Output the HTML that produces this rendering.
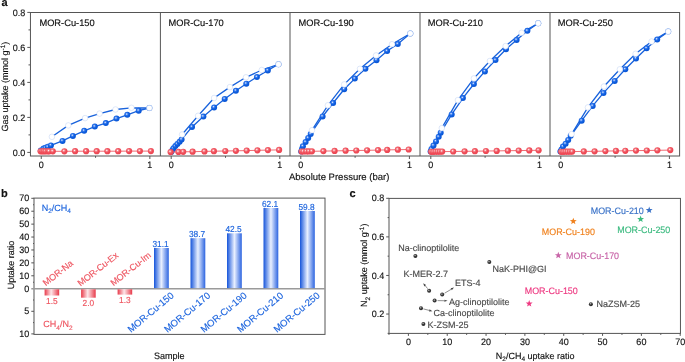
<!DOCTYPE html>
<html><head><meta charset="utf-8"><style>
html,body{margin:0;padding:0;background:#fff;}
svg{display:block;will-change:transform;}
text{font-family:"Liberation Sans", sans-serif;text-rendering:geometricPrecision;}
</style></head><body>
<svg width="685" height="362" viewBox="0 0 685 362" font-family='"Liberation Sans", sans-serif'>
<rect width="685" height="362" fill="#fff"/>
<text x="1.4" y="5.9" font-size="11" text-anchor="start" fill="#111111" stroke="#111111" stroke-width="0.15" font-weight="bold">a</text>
<rect x="30.45" y="12.5" width="649.15" height="143.50" fill="none" stroke="#555555" stroke-width="1"/>
<line x1="160.4" y1="12.5" x2="160.4" y2="156" stroke="#555555" stroke-width="1" />
<line x1="290.0" y1="12.5" x2="290.0" y2="156" stroke="#555555" stroke-width="1" />
<line x1="420.0" y1="12.5" x2="420.0" y2="156" stroke="#555555" stroke-width="1" />
<line x1="550.0" y1="12.5" x2="550.0" y2="156" stroke="#555555" stroke-width="1" />
<line x1="27.3" y1="12.4" x2="30" y2="12.4" stroke="#555555" stroke-width="1" />
<text transform="translate(25.3,15.6) scale(0.96,1)" font-size="9.4" text-anchor="end" fill="#111111" stroke="#111111" stroke-width="0.15" >0.8</text>
<line x1="27.3" y1="47.4" x2="30" y2="47.4" stroke="#555555" stroke-width="1" />
<text transform="translate(25.3,50.6) scale(0.96,1)" font-size="9.4" text-anchor="end" fill="#111111" stroke="#111111" stroke-width="0.15" >0.6</text>
<line x1="27.3" y1="82.4" x2="30" y2="82.4" stroke="#555555" stroke-width="1" />
<text transform="translate(25.3,85.6) scale(0.96,1)" font-size="9.4" text-anchor="end" fill="#111111" stroke="#111111" stroke-width="0.15" >0.4</text>
<line x1="27.3" y1="117.4" x2="30" y2="117.4" stroke="#555555" stroke-width="1" />
<text transform="translate(25.3,120.6) scale(0.96,1)" font-size="9.4" text-anchor="end" fill="#111111" stroke="#111111" stroke-width="0.15" >0.2</text>
<line x1="27.3" y1="152.4" x2="30" y2="152.4" stroke="#555555" stroke-width="1" />
<text transform="translate(25.3,155.6) scale(0.96,1)" font-size="9.4" text-anchor="end" fill="#111111" stroke="#111111" stroke-width="0.15" >0.0</text>
<line x1="28.5" y1="29.9" x2="30" y2="29.9" stroke="#555555" stroke-width="1" />
<line x1="28.5" y1="64.9" x2="30" y2="64.9" stroke="#555555" stroke-width="1" />
<line x1="28.5" y1="99.9" x2="30" y2="99.9" stroke="#555555" stroke-width="1" />
<line x1="28.5" y1="134.9" x2="30" y2="134.9" stroke="#555555" stroke-width="1" />
<text x="39.4" y="25.9" font-size="9.3" text-anchor="start" fill="#111111" stroke="#111111" stroke-width="0.15" >MOR-Cu-150</text>
<line x1="41.25" y1="156" x2="41.25" y2="159" stroke="#555555" stroke-width="1" />
<line x1="149.85" y1="156" x2="149.85" y2="159" stroke="#555555" stroke-width="1" />
<line x1="95.55" y1="156" x2="95.55" y2="157.8" stroke="#555555" stroke-width="1" />
<text transform="translate(41.25,168) scale(0.96,1)" font-size="9.4" text-anchor="middle" fill="#111111" stroke="#111111" stroke-width="0.15" >0</text>
<text transform="translate(149.85,168) scale(0.96,1)" font-size="9.4" text-anchor="middle" fill="#111111" stroke="#111111" stroke-width="0.15" >1</text>
<text x="168.5" y="25.9" font-size="9.3" text-anchor="start" fill="#111111" stroke="#111111" stroke-width="0.15" >MOR-Cu-170</text>
<line x1="171.2" y1="156" x2="171.2" y2="159" stroke="#555555" stroke-width="1" />
<line x1="279.8" y1="156" x2="279.8" y2="159" stroke="#555555" stroke-width="1" />
<line x1="225.5" y1="156" x2="225.5" y2="157.8" stroke="#555555" stroke-width="1" />
<text transform="translate(171.2,168) scale(0.96,1)" font-size="9.4" text-anchor="middle" fill="#111111" stroke="#111111" stroke-width="0.15" >0</text>
<text transform="translate(279.8,168) scale(0.96,1)" font-size="9.4" text-anchor="middle" fill="#111111" stroke="#111111" stroke-width="0.15" >1</text>
<text x="298.5" y="25.9" font-size="9.3" text-anchor="start" fill="#111111" stroke="#111111" stroke-width="0.15" >MOR-Cu-190</text>
<line x1="300.8" y1="156" x2="300.8" y2="159" stroke="#555555" stroke-width="1" />
<line x1="409.4" y1="156" x2="409.4" y2="159" stroke="#555555" stroke-width="1" />
<line x1="355.1" y1="156" x2="355.1" y2="157.8" stroke="#555555" stroke-width="1" />
<text transform="translate(300.8,168) scale(0.96,1)" font-size="9.4" text-anchor="middle" fill="#111111" stroke="#111111" stroke-width="0.15" >0</text>
<text transform="translate(409.4,168) scale(0.96,1)" font-size="9.4" text-anchor="middle" fill="#111111" stroke="#111111" stroke-width="0.15" >1</text>
<text x="427.7" y="25.9" font-size="9.3" text-anchor="start" fill="#111111" stroke="#111111" stroke-width="0.15" >MOR-Cu-210</text>
<line x1="430.8" y1="156" x2="430.8" y2="159" stroke="#555555" stroke-width="1" />
<line x1="539.4" y1="156" x2="539.4" y2="159" stroke="#555555" stroke-width="1" />
<line x1="485.1" y1="156" x2="485.1" y2="157.8" stroke="#555555" stroke-width="1" />
<text transform="translate(430.8,168) scale(0.96,1)" font-size="9.4" text-anchor="middle" fill="#111111" stroke="#111111" stroke-width="0.15" >0</text>
<text transform="translate(539.4,168) scale(0.96,1)" font-size="9.4" text-anchor="middle" fill="#111111" stroke="#111111" stroke-width="0.15" >1</text>
<text x="557.7" y="25.9" font-size="9.3" text-anchor="start" fill="#111111" stroke="#111111" stroke-width="0.15" >MOR-Cu-250</text>
<line x1="560.8" y1="156" x2="560.8" y2="159" stroke="#555555" stroke-width="1" />
<line x1="669.4" y1="156" x2="669.4" y2="159" stroke="#555555" stroke-width="1" />
<line x1="615.1" y1="156" x2="615.1" y2="157.8" stroke="#555555" stroke-width="1" />
<text transform="translate(560.8,168) scale(0.96,1)" font-size="9.4" text-anchor="middle" fill="#111111" stroke="#111111" stroke-width="0.15" >0</text>
<text transform="translate(669.4,168) scale(0.96,1)" font-size="9.4" text-anchor="middle" fill="#111111" stroke="#111111" stroke-width="0.15" >1</text>
<text x="289.0" y="179.6" font-size="9.5" text-anchor="start" fill="#111111" stroke="#111111" stroke-width="0.15" >Absolute Pressure (bar)</text>
<text transform="translate(7.7,131.5) rotate(-90)" font-size="9" fill="#111111" stroke="#111111" stroke-width="0.15">Gas uptake (mmol g<tspan dy="-3.2" font-size="6.5">-1</tspan><tspan dy="3.2">)</tspan></text>
<defs><radialGradient id="gb" cx="0.4" cy="0.38" r="0.62"><stop offset="0" stop-color="#f0f6ff"/><stop offset="0.3" stop-color="#3a7cee"/><stop offset="0.6" stop-color="#0d5ee0"/><stop offset="1" stop-color="#0a55d4"/></radialGradient><radialGradient id="gr" cx="0.4" cy="0.38" r="0.62"><stop offset="0" stop-color="#ffffff"/><stop offset="0.3" stop-color="#f47a82"/><stop offset="0.6" stop-color="#ef4c58"/><stop offset="1" stop-color="#ec4652"/></radialGradient><radialGradient id="gd" cx="0.42" cy="0.38" r="0.62"><stop offset="0" stop-color="#c8c8c8"/><stop offset="0.45" stop-color="#3a3a3a"/><stop offset="1" stop-color="#2a2a2a"/></radialGradient><linearGradient id="bb" x1="0" x2="1" y1="0" y2="0"><stop offset="0" stop-color="#1554da"/><stop offset="0.5" stop-color="#e9f0ff"/><stop offset="1" stop-color="#2c64e0"/></linearGradient><linearGradient id="rb" x1="0" x2="1" y1="0" y2="0"><stop offset="0" stop-color="#e83a4a"/><stop offset="0.45" stop-color="#fde6e9"/><stop offset="1" stop-color="#e83a4a"/></linearGradient></defs>
<polyline points="40.8,150.5 43.5,148.6 45.5,147.8 47.8,146.8 50.9,145.4 62.5,140.9 72.9,135.9 84.2,130.8 94.8,126.6 105.8,123.1 116.5,118.6 127.3,114.8 138.7,110.7 149.4,108.0" fill="none" stroke="#1862dc" stroke-width="1.3"/>
<polyline points="51.9,136.8 68.3,125.4 85.1,118.1 99.6,113.6 115.5,109.5 131.4,107.8 149.4,108.0" fill="none" stroke="#1862dc" stroke-width="1.3"/>
<circle cx="40.8" cy="150.5" r="3" fill="url(#gb)"/>
<circle cx="43.5" cy="148.6" r="3" fill="url(#gb)"/>
<circle cx="45.5" cy="147.8" r="3" fill="url(#gb)"/>
<circle cx="47.8" cy="146.8" r="3" fill="url(#gb)"/>
<circle cx="50.9" cy="145.4" r="3" fill="url(#gb)"/>
<circle cx="62.5" cy="140.9" r="3" fill="url(#gb)"/>
<circle cx="72.9" cy="135.9" r="3" fill="url(#gb)"/>
<circle cx="84.2" cy="130.8" r="3" fill="url(#gb)"/>
<circle cx="94.8" cy="126.6" r="3" fill="url(#gb)"/>
<circle cx="105.8" cy="123.1" r="3" fill="url(#gb)"/>
<circle cx="116.5" cy="118.6" r="3" fill="url(#gb)"/>
<circle cx="127.3" cy="114.8" r="3" fill="url(#gb)"/>
<circle cx="138.7" cy="110.7" r="3" fill="url(#gb)"/>
<circle cx="149.4" cy="108.0" r="3" fill="url(#gb)"/>
<circle cx="51.9" cy="136.8" r="2.8" fill="#fff" stroke="#c9d9f5" stroke-width="0.6"/>
<circle cx="68.3" cy="125.4" r="2.8" fill="#fff" stroke="#c9d9f5" stroke-width="0.6"/>
<circle cx="85.1" cy="118.1" r="2.8" fill="#fff" stroke="#c9d9f5" stroke-width="0.6"/>
<circle cx="99.6" cy="113.6" r="2.8" fill="#fff" stroke="#c9d9f5" stroke-width="0.6"/>
<circle cx="115.5" cy="109.5" r="2.8" fill="#fff" stroke="#c9d9f5" stroke-width="0.6"/>
<circle cx="131.4" cy="107.8" r="2.8" fill="#fff" stroke="#c9d9f5" stroke-width="0.6"/>
<circle cx="149.4" cy="108.0" r="2.8" fill="#fff" stroke="#c9d9f5" stroke-width="0.6"/>
<polyline points="40.6,151.3 42.3,151.3 43.9,151.3 45.6,151.3 47.8,151.3 49.2,151.3 52.8,151.3 64.4,151.3 75.1,151.2 86.1,151.2 96.7,151.2 107.4,151.2 118.2,151.2 129.1,151.1 139.9,151.1 150.9,151.1" fill="none" stroke="#f06c75" stroke-width="1.0"/>
<circle cx="40.6" cy="151.3" r="3.1" fill="url(#gr)"/>
<circle cx="42.3" cy="151.3" r="3.1" fill="url(#gr)"/>
<circle cx="43.9" cy="151.3" r="3.1" fill="url(#gr)"/>
<circle cx="45.6" cy="151.3" r="3.1" fill="url(#gr)"/>
<circle cx="47.8" cy="151.3" r="3.1" fill="url(#gr)"/>
<circle cx="49.2" cy="151.3" r="3.1" fill="url(#gr)"/>
<circle cx="52.8" cy="151.3" r="3.1" fill="url(#gr)"/>
<circle cx="64.4" cy="151.3" r="3.1" fill="url(#gr)"/>
<circle cx="75.1" cy="151.2" r="3.1" fill="url(#gr)"/>
<circle cx="86.1" cy="151.2" r="3.1" fill="url(#gr)"/>
<circle cx="96.7" cy="151.2" r="3.1" fill="url(#gr)"/>
<circle cx="107.4" cy="151.2" r="3.1" fill="url(#gr)"/>
<circle cx="118.2" cy="151.2" r="3.1" fill="url(#gr)"/>
<circle cx="129.1" cy="151.1" r="3.1" fill="url(#gr)"/>
<circle cx="139.9" cy="151.1" r="3.1" fill="url(#gr)"/>
<circle cx="150.9" cy="151.1" r="3.1" fill="url(#gr)"/>
<polyline points="171.2,152.0 172.5,150.0 173.5,148.2 175.4,146.1 177.4,143.9 179.6,141.8 181.6,139.5 192.0,126.9 203.4,116.6 214.1,107.4 224.7,98.9 235.9,90.7 246.3,83.7 256.9,77.0 267.8,70.4 278.5,64.3" fill="none" stroke="#1862dc" stroke-width="1.3"/>
<polyline points="182.1,134.5 198.1,115.8 214.1,98.0 229.9,87.1 246.0,77.3 261.8,70.0 278.5,64.3" fill="none" stroke="#1862dc" stroke-width="1.3"/>
<circle cx="171.2" cy="152.0" r="3" fill="url(#gb)"/>
<circle cx="172.5" cy="150.0" r="3" fill="url(#gb)"/>
<circle cx="173.5" cy="148.2" r="3" fill="url(#gb)"/>
<circle cx="175.4" cy="146.1" r="3" fill="url(#gb)"/>
<circle cx="177.4" cy="143.9" r="3" fill="url(#gb)"/>
<circle cx="179.6" cy="141.8" r="3" fill="url(#gb)"/>
<circle cx="181.6" cy="139.5" r="3" fill="url(#gb)"/>
<circle cx="192.0" cy="126.9" r="3" fill="url(#gb)"/>
<circle cx="203.4" cy="116.6" r="3" fill="url(#gb)"/>
<circle cx="214.1" cy="107.4" r="3" fill="url(#gb)"/>
<circle cx="224.7" cy="98.9" r="3" fill="url(#gb)"/>
<circle cx="235.9" cy="90.7" r="3" fill="url(#gb)"/>
<circle cx="246.3" cy="83.7" r="3" fill="url(#gb)"/>
<circle cx="256.9" cy="77.0" r="3" fill="url(#gb)"/>
<circle cx="267.8" cy="70.4" r="3" fill="url(#gb)"/>
<circle cx="278.5" cy="64.3" r="3" fill="url(#gb)"/>
<circle cx="182.1" cy="134.5" r="2.8" fill="#fff" stroke="#c9d9f5" stroke-width="0.6"/>
<circle cx="198.1" cy="115.8" r="2.8" fill="#fff" stroke="#c9d9f5" stroke-width="0.6"/>
<circle cx="214.1" cy="98.0" r="2.8" fill="#fff" stroke="#c9d9f5" stroke-width="0.6"/>
<circle cx="229.9" cy="87.1" r="2.8" fill="#fff" stroke="#c9d9f5" stroke-width="0.6"/>
<circle cx="246.0" cy="77.3" r="2.8" fill="#fff" stroke="#c9d9f5" stroke-width="0.6"/>
<circle cx="261.8" cy="70.0" r="2.8" fill="#fff" stroke="#c9d9f5" stroke-width="0.6"/>
<circle cx="278.5" cy="64.3" r="2.8" fill="#fff" stroke="#c9d9f5" stroke-width="0.6"/>
<polyline points="170.6,152.1 178.5,151.9 183.2,151.8 192.6,151.7 204.5,151.4 213.9,151.2 225.3,151.0 235.9,150.8 246.7,150.6 257.4,150.3 267.9,150.1 279.1,149.9" fill="none" stroke="#f06c75" stroke-width="1.0"/>
<circle cx="170.6" cy="152.1" r="3.1" fill="url(#gr)"/>
<circle cx="178.5" cy="151.9" r="3.1" fill="url(#gr)"/>
<circle cx="183.2" cy="151.8" r="3.1" fill="url(#gr)"/>
<circle cx="192.6" cy="151.7" r="3.1" fill="url(#gr)"/>
<circle cx="204.5" cy="151.4" r="3.1" fill="url(#gr)"/>
<circle cx="213.9" cy="151.2" r="3.1" fill="url(#gr)"/>
<circle cx="225.3" cy="151.0" r="3.1" fill="url(#gr)"/>
<circle cx="235.9" cy="150.8" r="3.1" fill="url(#gr)"/>
<circle cx="246.7" cy="150.6" r="3.1" fill="url(#gr)"/>
<circle cx="257.4" cy="150.3" r="3.1" fill="url(#gr)"/>
<circle cx="267.9" cy="150.1" r="3.1" fill="url(#gr)"/>
<circle cx="279.1" cy="149.9" r="3.1" fill="url(#gr)"/>
<polyline points="301.2,151.5 302.0,149.0 302.9,146.2 305.6,142.0 308.2,137.9 310.7,133.9 322.6,116.5 333.1,103.0 344.2,89.3 354.8,78.6 365.4,68.8 376.5,60.2 387.1,51.0 397.8,44.0 410.3,33.5" fill="none" stroke="#1862dc" stroke-width="1.3"/>
<polyline points="312.0,130.2 327.9,105.3 344.2,84.4 360.0,68.8 376.1,55.4 392.0,44.2 410.3,33.5" fill="none" stroke="#1862dc" stroke-width="1.3"/>
<circle cx="301.2" cy="151.5" r="3" fill="url(#gb)"/>
<circle cx="302.0" cy="149.0" r="3" fill="url(#gb)"/>
<circle cx="302.9" cy="146.2" r="3" fill="url(#gb)"/>
<circle cx="305.6" cy="142.0" r="3" fill="url(#gb)"/>
<circle cx="308.2" cy="137.9" r="3" fill="url(#gb)"/>
<circle cx="310.7" cy="133.9" r="3" fill="url(#gb)"/>
<circle cx="322.6" cy="116.5" r="3" fill="url(#gb)"/>
<circle cx="333.1" cy="103.0" r="3" fill="url(#gb)"/>
<circle cx="344.2" cy="89.3" r="3" fill="url(#gb)"/>
<circle cx="354.8" cy="78.6" r="3" fill="url(#gb)"/>
<circle cx="365.4" cy="68.8" r="3" fill="url(#gb)"/>
<circle cx="376.5" cy="60.2" r="3" fill="url(#gb)"/>
<circle cx="387.1" cy="51.0" r="3" fill="url(#gb)"/>
<circle cx="397.8" cy="44.0" r="3" fill="url(#gb)"/>
<circle cx="410.3" cy="33.5" r="3" fill="url(#gb)"/>
<circle cx="312.0" cy="130.2" r="2.8" fill="#fff" stroke="#c9d9f5" stroke-width="0.6"/>
<circle cx="327.9" cy="105.3" r="2.8" fill="#fff" stroke="#c9d9f5" stroke-width="0.6"/>
<circle cx="344.2" cy="84.4" r="2.8" fill="#fff" stroke="#c9d9f5" stroke-width="0.6"/>
<circle cx="360.0" cy="68.8" r="2.8" fill="#fff" stroke="#c9d9f5" stroke-width="0.6"/>
<circle cx="376.1" cy="55.4" r="2.8" fill="#fff" stroke="#c9d9f5" stroke-width="0.6"/>
<circle cx="392.0" cy="44.2" r="2.8" fill="#fff" stroke="#c9d9f5" stroke-width="0.6"/>
<circle cx="410.3" cy="33.5" r="2.8" fill="#fff" stroke="#c9d9f5" stroke-width="0.6"/>
<polyline points="301.6,151.5 303.4,151.5 306.4,151.4 308.9,151.4 311.9,151.3 323.4,151.1 334.6,150.9 345.6,150.7 356.3,150.5 367.1,150.3 378.0,150.1 387.2,149.9 397.9,149.7 408.7,149.5" fill="none" stroke="#f06c75" stroke-width="1.0"/>
<circle cx="301.6" cy="151.5" r="3.1" fill="url(#gr)"/>
<circle cx="303.4" cy="151.5" r="3.1" fill="url(#gr)"/>
<circle cx="306.4" cy="151.4" r="3.1" fill="url(#gr)"/>
<circle cx="308.9" cy="151.4" r="3.1" fill="url(#gr)"/>
<circle cx="311.9" cy="151.3" r="3.1" fill="url(#gr)"/>
<circle cx="323.4" cy="151.1" r="3.1" fill="url(#gr)"/>
<circle cx="334.6" cy="150.9" r="3.1" fill="url(#gr)"/>
<circle cx="345.6" cy="150.7" r="3.1" fill="url(#gr)"/>
<circle cx="356.3" cy="150.5" r="3.1" fill="url(#gr)"/>
<circle cx="367.1" cy="150.3" r="3.1" fill="url(#gr)"/>
<circle cx="378.0" cy="150.1" r="3.1" fill="url(#gr)"/>
<circle cx="387.2" cy="149.9" r="3.1" fill="url(#gr)"/>
<circle cx="397.9" cy="149.7" r="3.1" fill="url(#gr)"/>
<circle cx="408.7" cy="149.5" r="3.1" fill="url(#gr)"/>
<polyline points="430.6,151.5 431.5,149.0 433.5,145.5 436.0,141.4 438.7,136.8 440.7,132.7 451.7,114.4 462.9,98.1 473.9,84.0 484.9,71.4 495.5,60.0 506.0,49.2 516.6,39.9 527.4,30.8 538.2,23.3" fill="none" stroke="#1862dc" stroke-width="1.3"/>
<polyline points="441.8,128.1 457.9,100.1 473.9,78.4 489.9,61.0 505.6,46.1 521.6,32.8 538.2,23.3" fill="none" stroke="#1862dc" stroke-width="1.3"/>
<circle cx="430.6" cy="151.5" r="3" fill="url(#gb)"/>
<circle cx="431.5" cy="149.0" r="3" fill="url(#gb)"/>
<circle cx="433.5" cy="145.5" r="3" fill="url(#gb)"/>
<circle cx="436.0" cy="141.4" r="3" fill="url(#gb)"/>
<circle cx="438.7" cy="136.8" r="3" fill="url(#gb)"/>
<circle cx="440.7" cy="132.7" r="3" fill="url(#gb)"/>
<circle cx="451.7" cy="114.4" r="3" fill="url(#gb)"/>
<circle cx="462.9" cy="98.1" r="3" fill="url(#gb)"/>
<circle cx="473.9" cy="84.0" r="3" fill="url(#gb)"/>
<circle cx="484.9" cy="71.4" r="3" fill="url(#gb)"/>
<circle cx="495.5" cy="60.0" r="3" fill="url(#gb)"/>
<circle cx="506.0" cy="49.2" r="3" fill="url(#gb)"/>
<circle cx="516.6" cy="39.9" r="3" fill="url(#gb)"/>
<circle cx="527.4" cy="30.8" r="3" fill="url(#gb)"/>
<circle cx="538.2" cy="23.3" r="3" fill="url(#gb)"/>
<circle cx="441.8" cy="128.1" r="2.8" fill="#fff" stroke="#c9d9f5" stroke-width="0.6"/>
<circle cx="457.9" cy="100.1" r="2.8" fill="#fff" stroke="#c9d9f5" stroke-width="0.6"/>
<circle cx="473.9" cy="78.4" r="2.8" fill="#fff" stroke="#c9d9f5" stroke-width="0.6"/>
<circle cx="489.9" cy="61.0" r="2.8" fill="#fff" stroke="#c9d9f5" stroke-width="0.6"/>
<circle cx="505.6" cy="46.1" r="2.8" fill="#fff" stroke="#c9d9f5" stroke-width="0.6"/>
<circle cx="521.6" cy="32.8" r="2.8" fill="#fff" stroke="#c9d9f5" stroke-width="0.6"/>
<circle cx="538.2" cy="23.3" r="2.8" fill="#fff" stroke="#c9d9f5" stroke-width="0.6"/>
<polyline points="431.2,151.8 433.3,151.8 435.5,151.7 437.7,151.7 439.9,151.7 442.2,151.6 453.2,151.5 464.6,151.3 474.9,151.2 485.9,151.0 496.7,150.9 507.9,150.7 518.7,150.6 529.3,150.4 538.6,150.3" fill="none" stroke="#f06c75" stroke-width="1.0"/>
<circle cx="431.2" cy="151.8" r="3.1" fill="url(#gr)"/>
<circle cx="433.3" cy="151.8" r="3.1" fill="url(#gr)"/>
<circle cx="435.5" cy="151.7" r="3.1" fill="url(#gr)"/>
<circle cx="437.7" cy="151.7" r="3.1" fill="url(#gr)"/>
<circle cx="439.9" cy="151.7" r="3.1" fill="url(#gr)"/>
<circle cx="442.2" cy="151.6" r="3.1" fill="url(#gr)"/>
<circle cx="453.2" cy="151.5" r="3.1" fill="url(#gr)"/>
<circle cx="464.6" cy="151.3" r="3.1" fill="url(#gr)"/>
<circle cx="474.9" cy="151.2" r="3.1" fill="url(#gr)"/>
<circle cx="485.9" cy="151.0" r="3.1" fill="url(#gr)"/>
<circle cx="496.7" cy="150.9" r="3.1" fill="url(#gr)"/>
<circle cx="507.9" cy="150.7" r="3.1" fill="url(#gr)"/>
<circle cx="518.7" cy="150.6" r="3.1" fill="url(#gr)"/>
<circle cx="529.3" cy="150.4" r="3.1" fill="url(#gr)"/>
<circle cx="538.6" cy="150.3" r="3.1" fill="url(#gr)"/>
<polyline points="560.4,151.5 561.5,149.5 563.0,146.5 565.6,143.7 568.2,139.9 570.7,135.8 581.7,120.7 592.7,105.9 603.5,92.9 614.7,80.9 625.3,69.3 636.0,58.5 646.6,48.2 657.2,39.5 668.2,31.6" fill="none" stroke="#1862dc" stroke-width="1.3"/>
<polyline points="571.6,134.1 587.9,107.4 603.9,86.5 619.9,69.3 635.6,53.8 651.6,41.5 668.2,31.6" fill="none" stroke="#1862dc" stroke-width="1.3"/>
<circle cx="560.4" cy="151.5" r="3" fill="url(#gb)"/>
<circle cx="561.5" cy="149.5" r="3" fill="url(#gb)"/>
<circle cx="563.0" cy="146.5" r="3" fill="url(#gb)"/>
<circle cx="565.6" cy="143.7" r="3" fill="url(#gb)"/>
<circle cx="568.2" cy="139.9" r="3" fill="url(#gb)"/>
<circle cx="570.7" cy="135.8" r="3" fill="url(#gb)"/>
<circle cx="581.7" cy="120.7" r="3" fill="url(#gb)"/>
<circle cx="592.7" cy="105.9" r="3" fill="url(#gb)"/>
<circle cx="603.5" cy="92.9" r="3" fill="url(#gb)"/>
<circle cx="614.7" cy="80.9" r="3" fill="url(#gb)"/>
<circle cx="625.3" cy="69.3" r="3" fill="url(#gb)"/>
<circle cx="636.0" cy="58.5" r="3" fill="url(#gb)"/>
<circle cx="646.6" cy="48.2" r="3" fill="url(#gb)"/>
<circle cx="657.2" cy="39.5" r="3" fill="url(#gb)"/>
<circle cx="668.2" cy="31.6" r="3" fill="url(#gb)"/>
<circle cx="571.6" cy="134.1" r="2.8" fill="#fff" stroke="#c9d9f5" stroke-width="0.6"/>
<circle cx="587.9" cy="107.4" r="2.8" fill="#fff" stroke="#c9d9f5" stroke-width="0.6"/>
<circle cx="603.9" cy="86.5" r="2.8" fill="#fff" stroke="#c9d9f5" stroke-width="0.6"/>
<circle cx="619.9" cy="69.3" r="2.8" fill="#fff" stroke="#c9d9f5" stroke-width="0.6"/>
<circle cx="635.6" cy="53.8" r="2.8" fill="#fff" stroke="#c9d9f5" stroke-width="0.6"/>
<circle cx="651.6" cy="41.5" r="2.8" fill="#fff" stroke="#c9d9f5" stroke-width="0.6"/>
<circle cx="668.2" cy="31.6" r="2.8" fill="#fff" stroke="#c9d9f5" stroke-width="0.6"/>
<polyline points="561.2,151.8 563.3,151.8 565.5,151.7 567.7,151.7 570.0,151.7 572.2,151.6 583.8,151.4 594.6,151.3 605.4,151.1 615.9,150.9 625.3,150.8 636.0,150.6 646.8,150.5 657.4,150.3 670.3,150.1" fill="none" stroke="#f06c75" stroke-width="1.0"/>
<circle cx="561.2" cy="151.8" r="3.1" fill="url(#gr)"/>
<circle cx="563.3" cy="151.8" r="3.1" fill="url(#gr)"/>
<circle cx="565.5" cy="151.7" r="3.1" fill="url(#gr)"/>
<circle cx="567.7" cy="151.7" r="3.1" fill="url(#gr)"/>
<circle cx="570.0" cy="151.7" r="3.1" fill="url(#gr)"/>
<circle cx="572.2" cy="151.6" r="3.1" fill="url(#gr)"/>
<circle cx="583.8" cy="151.4" r="3.1" fill="url(#gr)"/>
<circle cx="594.6" cy="151.3" r="3.1" fill="url(#gr)"/>
<circle cx="605.4" cy="151.1" r="3.1" fill="url(#gr)"/>
<circle cx="615.9" cy="150.9" r="3.1" fill="url(#gr)"/>
<circle cx="625.3" cy="150.8" r="3.1" fill="url(#gr)"/>
<circle cx="636.0" cy="150.6" r="3.1" fill="url(#gr)"/>
<circle cx="646.8" cy="150.5" r="3.1" fill="url(#gr)"/>
<circle cx="657.4" cy="150.3" r="3.1" fill="url(#gr)"/>
<circle cx="670.3" cy="150.1" r="3.1" fill="url(#gr)"/>
<text x="1.0" y="196.6" font-size="11" text-anchor="start" fill="#111111" stroke="#111111" stroke-width="0.15" font-weight="bold">b</text>
<rect x="34.0" y="198.1" width="291.00" height="136.30" fill="none" stroke="#555555" stroke-width="1"/>
<line x1="31.3" y1="275.79" x2="34.0" y2="275.79" stroke="#555555" stroke-width="1" />
<text transform="translate(29.3,278.89) scale(0.96,1)" font-size="9.4" text-anchor="end" fill="#111111" stroke="#111111" stroke-width="0.15" >10</text>
<line x1="31.3" y1="262.87" x2="34.0" y2="262.87" stroke="#555555" stroke-width="1" />
<text transform="translate(29.3,265.97) scale(0.96,1)" font-size="9.4" text-anchor="end" fill="#111111" stroke="#111111" stroke-width="0.15" >20</text>
<line x1="31.3" y1="249.96" x2="34.0" y2="249.96" stroke="#555555" stroke-width="1" />
<text transform="translate(29.3,253.06) scale(0.96,1)" font-size="9.4" text-anchor="end" fill="#111111" stroke="#111111" stroke-width="0.15" >30</text>
<line x1="31.3" y1="237.04" x2="34.0" y2="237.04" stroke="#555555" stroke-width="1" />
<text transform="translate(29.3,240.14) scale(0.96,1)" font-size="9.4" text-anchor="end" fill="#111111" stroke="#111111" stroke-width="0.15" >40</text>
<line x1="31.3" y1="224.13" x2="34.0" y2="224.13" stroke="#555555" stroke-width="1" />
<text transform="translate(29.3,227.23) scale(0.96,1)" font-size="9.4" text-anchor="end" fill="#111111" stroke="#111111" stroke-width="0.15" >50</text>
<line x1="31.3" y1="211.22" x2="34.0" y2="211.22" stroke="#555555" stroke-width="1" />
<text transform="translate(29.3,214.32) scale(0.96,1)" font-size="9.4" text-anchor="end" fill="#111111" stroke="#111111" stroke-width="0.15" >60</text>
<line x1="31.3" y1="198.3" x2="34.0" y2="198.3" stroke="#555555" stroke-width="1" />
<text transform="translate(29.3,201.4) scale(0.96,1)" font-size="9.4" text-anchor="end" fill="#111111" stroke="#111111" stroke-width="0.15" >70</text>
<line x1="33" y1="282.24" x2="34.0" y2="282.24" stroke="#555555" stroke-width="1" />
<line x1="33" y1="269.33" x2="34.0" y2="269.33" stroke="#555555" stroke-width="1" />
<line x1="33" y1="256.41" x2="34.0" y2="256.41" stroke="#555555" stroke-width="1" />
<line x1="33" y1="243.5" x2="34.0" y2="243.5" stroke="#555555" stroke-width="1" />
<line x1="33" y1="230.59" x2="34.0" y2="230.59" stroke="#555555" stroke-width="1" />
<line x1="33" y1="217.67" x2="34.0" y2="217.67" stroke="#555555" stroke-width="1" />
<line x1="33" y1="204.76" x2="34.0" y2="204.76" stroke="#555555" stroke-width="1" />
<text transform="translate(29.3,291.8) scale(0.96,1)" font-size="9.4" text-anchor="end" fill="#111111" stroke="#111111" stroke-width="0.15" >0</text>
<line x1="31.3" y1="311.3" x2="34.0" y2="311.3" stroke="#555555" stroke-width="1" />
<text transform="translate(29.3,314.4) scale(0.96,1)" font-size="9.4" text-anchor="end" fill="#111111" stroke="#111111" stroke-width="0.15" >5</text>
<line x1="31.3" y1="333.9" x2="34.0" y2="333.9" stroke="#555555" stroke-width="1" />
<text transform="translate(29.3,337.0) scale(0.96,1)" font-size="9.4" text-anchor="end" fill="#111111" stroke="#111111" stroke-width="0.15" >10</text>
<line x1="33" y1="300.0" x2="34.0" y2="300.0" stroke="#555555" stroke-width="1" />
<line x1="33" y1="322.6" x2="34.0" y2="322.6" stroke="#555555" stroke-width="1" />
<line x1="31.3" y1="288.7" x2="325.0" y2="288.7" stroke="#9a9a9a" stroke-width="1.6" />
<text transform="translate(13.6,289.3) rotate(-90)" font-size="9" fill="#111111" stroke="#111111" stroke-width="0.15">Uptake ratio</text>
<text transform="translate(154,359.0) scale(0.96,1)" font-size="9.4" text-anchor="start" fill="#111111" stroke="#111111" stroke-width="0.15" >Sample</text>
<text x="41.7" y="210.6" font-size="9" fill="#1c64de" stroke="#1c64de" stroke-width="0.15">N<tspan dy="2.3" font-size="6.5">2</tspan><tspan dy="-2.3">/CH</tspan><tspan dy="2.3" font-size="6.5">4</tspan></text>
<text x="43.3" y="327.2" font-size="9" fill="#ee5560" stroke="#ee5560" stroke-width="0.15">CH<tspan dy="2.3" font-size="6.5">4</tspan><tspan dy="-2.3">/N</tspan><tspan dy="2.3" font-size="6.5">2</tspan></text>
<rect x="44.6" y="289.3" width="14.6" height="6.2" fill="url(#rb)"/>
<text transform="translate(51.9,303.78) scale(0.96,1)" font-size="8.7" text-anchor="middle" fill="#ee5560" stroke="#ee5560" stroke-width="0.15" >1.5</text>
<text transform="translate(45.8,286.3) rotate(-38)" font-size="9.0" fill="#ee5560" stroke="#ee5560" stroke-width="0.15">MOR-Na</text>
<rect x="81.1" y="289.3" width="14.6" height="8.4" fill="url(#rb)"/>
<text transform="translate(88.4,306.04) scale(0.96,1)" font-size="8.7" text-anchor="middle" fill="#ee5560" stroke="#ee5560" stroke-width="0.15" >2.0</text>
<text transform="translate(80.5,286.6) rotate(-38)" font-size="9.0" fill="#ee5560" stroke="#ee5560" stroke-width="0.15">MOR-Cu-Ex</text>
<rect x="117.6" y="289.3" width="14.6" height="5.3" fill="url(#rb)"/>
<text transform="translate(124.9,302.88) scale(0.96,1)" font-size="8.7" text-anchor="middle" fill="#ee5560" stroke="#ee5560" stroke-width="0.15" >1.3</text>
<text transform="translate(113.4,286.3) rotate(-38)" font-size="9.0" fill="#ee5560" stroke="#ee5560" stroke-width="0.15">MOR-Cu-Im</text>
<rect x="154.0" y="248.0" width="14.8" height="40.1" fill="url(#bb)"/>
<text transform="translate(160.6,246.74) scale(0.96,1)" font-size="8.7" text-anchor="middle" fill="#1c64de" stroke="#1c64de" stroke-width="0.15" >31.1</text>
<text transform="translate(174.5,296.5) rotate(-40)" font-size="9.55" text-anchor="end" fill="#1c64de" stroke="#1c64de" stroke-width="0.15">MOR-Cu-150</text>
<rect x="190.5" y="238.2" width="14.8" height="49.9" fill="url(#bb)"/>
<text transform="translate(197.1,236.92) scale(0.96,1)" font-size="8.7" text-anchor="middle" fill="#1c64de" stroke="#1c64de" stroke-width="0.15" >38.7</text>
<text transform="translate(211.0,296.5) rotate(-40)" font-size="9.55" text-anchor="end" fill="#1c64de" stroke="#1c64de" stroke-width="0.15">MOR-Cu-170</text>
<rect x="227.0" y="233.3" width="14.8" height="54.8" fill="url(#bb)"/>
<text transform="translate(233.6,232.02) scale(0.96,1)" font-size="8.7" text-anchor="middle" fill="#1c64de" stroke="#1c64de" stroke-width="0.15" >42.5</text>
<text transform="translate(247.5,296.5) rotate(-40)" font-size="9.55" text-anchor="end" fill="#1c64de" stroke="#1c64de" stroke-width="0.15">MOR-Cu-190</text>
<rect x="263.5" y="208.0" width="14.8" height="80.1" fill="url(#bb)"/>
<text transform="translate(270.1,206.7) scale(0.96,1)" font-size="8.7" text-anchor="middle" fill="#1c64de" stroke="#1c64de" stroke-width="0.15" >62.1</text>
<text transform="translate(284.0,296.5) rotate(-40)" font-size="9.55" text-anchor="end" fill="#1c64de" stroke="#1c64de" stroke-width="0.15">MOR-Cu-210</text>
<rect x="300.0" y="211.0" width="14.8" height="77.1" fill="url(#bb)"/>
<text transform="translate(306.6,209.67) scale(0.96,1)" font-size="8.7" text-anchor="middle" fill="#1c64de" stroke="#1c64de" stroke-width="0.15" >59.8</text>
<text transform="translate(320.5,296.5) rotate(-40)" font-size="9.55" text-anchor="end" fill="#1c64de" stroke="#1c64de" stroke-width="0.15">MOR-Cu-250</text>
<text x="349.5" y="196.6" font-size="11" text-anchor="start" fill="#111111" stroke="#111111" stroke-width="0.15" font-weight="bold">c</text>
<rect x="389.0" y="198.4" width="291.45" height="135.00" fill="none" stroke="#555555" stroke-width="1"/>
<line x1="386.2" y1="198.3" x2="389.0" y2="198.3" stroke="#555555" stroke-width="1" />
<text transform="translate(384.3,201.4) scale(0.96,1)" font-size="9.4" text-anchor="end" fill="#111111" stroke="#111111" stroke-width="0.15" >0.8</text>
<line x1="386.2" y1="236.88" x2="389.0" y2="236.88" stroke="#555555" stroke-width="1" />
<text transform="translate(384.3,239.98) scale(0.96,1)" font-size="9.4" text-anchor="end" fill="#111111" stroke="#111111" stroke-width="0.15" >0.6</text>
<line x1="386.2" y1="275.46" x2="389.0" y2="275.46" stroke="#555555" stroke-width="1" />
<text transform="translate(384.3,278.56) scale(0.96,1)" font-size="9.4" text-anchor="end" fill="#111111" stroke="#111111" stroke-width="0.15" >0.4</text>
<line x1="386.2" y1="314.04" x2="389.0" y2="314.04" stroke="#555555" stroke-width="1" />
<text transform="translate(384.3,317.14) scale(0.96,1)" font-size="9.4" text-anchor="end" fill="#111111" stroke="#111111" stroke-width="0.15" >0.2</text>
<line x1="387.6" y1="217.59" x2="389.0" y2="217.59" stroke="#555555" stroke-width="1" />
<line x1="387.6" y1="256.17" x2="389.0" y2="256.17" stroke="#555555" stroke-width="1" />
<line x1="387.6" y1="294.75" x2="389.0" y2="294.75" stroke="#555555" stroke-width="1" />
<line x1="387.6" y1="333.33" x2="389.0" y2="333.33" stroke="#555555" stroke-width="1" />
<line x1="408.4" y1="333.4" x2="408.4" y2="335.9" stroke="#555555" stroke-width="1" />
<text transform="translate(408.4,344.6) scale(0.96,1)" font-size="9.4" text-anchor="middle" fill="#111111" stroke="#111111" stroke-width="0.15" >0</text>
<line x1="447.23" y1="333.4" x2="447.23" y2="335.9" stroke="#555555" stroke-width="1" />
<text transform="translate(447.23,344.6) scale(0.96,1)" font-size="9.4" text-anchor="middle" fill="#111111" stroke="#111111" stroke-width="0.15" >10</text>
<line x1="486.06" y1="333.4" x2="486.06" y2="335.9" stroke="#555555" stroke-width="1" />
<text transform="translate(486.06,344.6) scale(0.96,1)" font-size="9.4" text-anchor="middle" fill="#111111" stroke="#111111" stroke-width="0.15" >20</text>
<line x1="524.89" y1="333.4" x2="524.89" y2="335.9" stroke="#555555" stroke-width="1" />
<text transform="translate(524.89,344.6) scale(0.96,1)" font-size="9.4" text-anchor="middle" fill="#111111" stroke="#111111" stroke-width="0.15" >30</text>
<line x1="563.72" y1="333.4" x2="563.72" y2="335.9" stroke="#555555" stroke-width="1" />
<text transform="translate(563.72,344.6) scale(0.96,1)" font-size="9.4" text-anchor="middle" fill="#111111" stroke="#111111" stroke-width="0.15" >40</text>
<line x1="602.55" y1="333.4" x2="602.55" y2="335.9" stroke="#555555" stroke-width="1" />
<text transform="translate(602.55,344.6) scale(0.96,1)" font-size="9.4" text-anchor="middle" fill="#111111" stroke="#111111" stroke-width="0.15" >50</text>
<line x1="641.38" y1="333.4" x2="641.38" y2="335.9" stroke="#555555" stroke-width="1" />
<text transform="translate(641.38,344.6) scale(0.96,1)" font-size="9.4" text-anchor="middle" fill="#111111" stroke="#111111" stroke-width="0.15" >60</text>
<line x1="680.21" y1="333.4" x2="680.21" y2="335.9" stroke="#555555" stroke-width="1" />
<text transform="translate(680.21,344.6) scale(0.96,1)" font-size="9.4" text-anchor="middle" fill="#111111" stroke="#111111" stroke-width="0.15" >70</text>
<line x1="388.98" y1="333.4" x2="388.98" y2="334.9" stroke="#555555" stroke-width="1" />
<line x1="427.81" y1="333.4" x2="427.81" y2="334.9" stroke="#555555" stroke-width="1" />
<line x1="466.64" y1="333.4" x2="466.64" y2="334.9" stroke="#555555" stroke-width="1" />
<line x1="505.47" y1="333.4" x2="505.47" y2="334.9" stroke="#555555" stroke-width="1" />
<line x1="544.3" y1="333.4" x2="544.3" y2="334.9" stroke="#555555" stroke-width="1" />
<line x1="583.13" y1="333.4" x2="583.13" y2="334.9" stroke="#555555" stroke-width="1" />
<line x1="621.96" y1="333.4" x2="621.96" y2="334.9" stroke="#555555" stroke-width="1" />
<line x1="660.79" y1="333.4" x2="660.79" y2="334.9" stroke="#555555" stroke-width="1" />
<text x="495.8" y="358.9" font-size="9" fill="#111111" stroke="#111111" stroke-width="0.15">N<tspan dy="2.3" font-size="6.5">2</tspan><tspan dy="-2.3">/CH</tspan><tspan dy="2.3" font-size="6.5">4</tspan><tspan dy="-2.3"> uptake ratio</tspan></text>
<text transform="translate(367.3,307) rotate(-90)" font-size="9" fill="#111111" stroke="#111111" stroke-width="0.15">N<tspan dy="2.3" font-size="6.5">2</tspan><tspan dy="-2.3"> uptake (mmol g</tspan><tspan dy="-3.2" font-size="6.5">-1</tspan><tspan dy="3.2">)</tspan></text>
<circle cx="415.4" cy="255.9" r="2" fill="url(#gd)"/>
<text x="398.3" y="251.1" font-size="9.0" text-anchor="start" fill="#4a4a4a" stroke="#4a4a4a" stroke-width="0.15" >Na-clinoptilolite</text>
<circle cx="489.3" cy="262.1" r="2" fill="url(#gd)"/>
<text x="492.4" y="272.3" font-size="9.0" text-anchor="start" fill="#4a4a4a" stroke="#4a4a4a" stroke-width="0.15" >NaK-PHI@GI</text>
<circle cx="429.1" cy="290.8" r="2" fill="url(#gd)"/>
<text x="403.4" y="277.2" font-size="9.0" text-anchor="start" fill="#4a4a4a" stroke="#4a4a4a" stroke-width="0.15" >K-MER-2.7</text>
<line x1="427.6" y1="288.6" x2="425.22" y2="285.68" stroke="#444" stroke-width="0.6" />
<polygon points="423.20,283.20 426.07,284.99 424.37,286.38" fill="#444"/>
<circle cx="442.2" cy="294.6" r="2" fill="url(#gd)"/>
<text x="454.9" y="286.4" font-size="9.0" text-anchor="start" fill="#4a4a4a" stroke="#4a4a4a" stroke-width="0.15" >ETS-4</text>
<line x1="444.6" y1="293.2" x2="451.25" y2="289.24" stroke="#444" stroke-width="0.6" />
<polygon points="454.00,287.60 451.81,290.18 450.69,288.29" fill="#444"/>
<circle cx="434.6" cy="300.6" r="2" fill="url(#gd)"/>
<text x="449" y="305.3" font-size="9.0" text-anchor="start" fill="#4a4a4a" stroke="#4a4a4a" stroke-width="0.15" >Ag-clinoptilolite</text>
<line x1="437.6" y1="300.6" x2="444.4" y2="300.74" stroke="#444" stroke-width="0.6" />
<polygon points="447.60,300.80 444.38,301.84 444.42,299.64" fill="#444"/>
<circle cx="421.0" cy="308.3" r="2" fill="url(#gd)"/>
<text x="433.5" y="316.1" font-size="9.0" text-anchor="start" fill="#4a4a4a" stroke="#4a4a4a" stroke-width="0.15" >Ca-clinoptilolite</text>
<line x1="423.4" y1="308.9" x2="429.3" y2="310.41" stroke="#444" stroke-width="0.6" />
<polygon points="432.40,311.20 429.03,311.47 429.57,309.34" fill="#444"/>
<circle cx="423.4" cy="323.9" r="2" fill="url(#gd)"/>
<text x="427.6" y="328.2" font-size="9.0" text-anchor="start" fill="#4a4a4a" stroke="#4a4a4a" stroke-width="0.15" >K-ZSM-25</text>
<circle cx="590.9" cy="304.2" r="2" fill="url(#gd)"/>
<text x="596.5" y="306.9" font-size="9.0" text-anchor="start" fill="#4a4a4a" stroke="#4a4a4a" stroke-width="0.15" >NaZSM-25</text>
<polygon points="649.20,206.60 650.09,208.98 652.62,209.09 650.64,210.67 651.32,213.11 649.20,211.71 647.08,213.11 647.76,210.67 645.78,209.09 648.31,208.98" fill="#3b73c8"/>
<text transform="translate(590.7,213.6) scale(0.96,1)" font-size="9.3" text-anchor="start" fill="#3b73c8" stroke="#3b73c8" stroke-width="0.15" >MOR-Cu-210</text>
<polygon points="573.30,217.70 574.19,220.08 576.72,220.19 574.74,221.77 575.42,224.21 573.30,222.81 571.18,224.21 571.86,221.77 569.88,220.19 572.41,220.08" fill="#f0821e"/>
<text transform="translate(541.8,234.6) scale(0.96,1)" font-size="9.3" text-anchor="start" fill="#f0821e" stroke="#f0821e" stroke-width="0.15" >MOR-Cu-190</text>
<polygon points="640.60,215.60 641.49,217.98 644.02,218.09 642.04,219.67 642.72,222.11 640.60,220.71 638.48,222.11 639.16,219.67 637.18,218.09 639.71,217.98" fill="#3dbb80"/>
<text transform="translate(617.2,232.5) scale(0.96,1)" font-size="9.3" text-anchor="start" fill="#3dbb80" stroke="#3dbb80" stroke-width="0.15" >MOR-Cu-250</text>
<polygon points="558.30,251.80 559.19,254.18 561.72,254.29 559.74,255.87 560.42,258.31 558.30,256.91 556.18,258.31 556.86,255.87 554.88,254.29 557.41,254.18" fill="#c865a8"/>
<text transform="translate(566,259.3) scale(0.96,1)" font-size="9.3" text-anchor="start" fill="#c865a8" stroke="#c865a8" stroke-width="0.15" >MOR-Cu-170</text>
<polygon points="529.20,300.10 530.09,302.48 532.62,302.59 530.64,304.17 531.32,306.61 529.20,305.21 527.08,306.61 527.76,304.17 525.78,302.59 528.31,302.48" fill="#ee3a82"/>
<text transform="translate(524.7,294.2) scale(0.96,1)" font-size="9.3" text-anchor="start" fill="#ee3a82" stroke="#ee3a82" stroke-width="0.15" >MOR-Cu-150</text>
</svg></body></html>
